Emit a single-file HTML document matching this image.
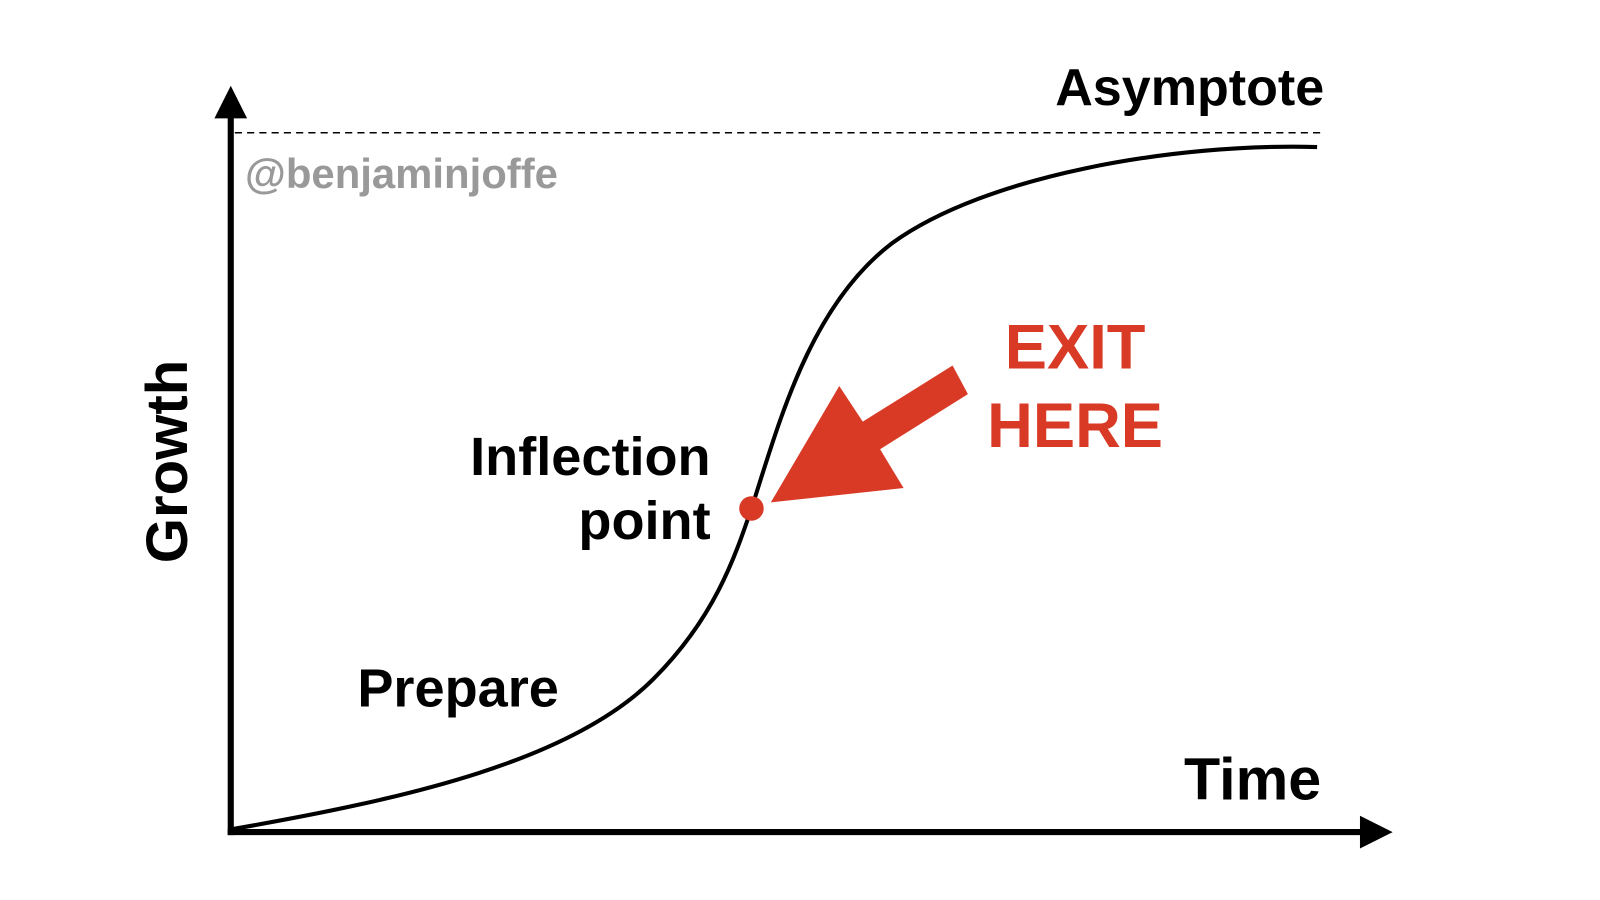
<!DOCTYPE html>
<html><head><meta charset="utf-8"><style>
html,body{margin:0;padding:0;background:#fff;}
svg{display:block;}
text{font-family:"Liberation Sans",sans-serif;font-weight:bold;}
</style></head><body>
<svg width="1600" height="900" viewBox="0 0 1600 900" xmlns="http://www.w3.org/2000/svg">
<rect width="1600" height="900" fill="#fff"/>
<g transform="scale(1.021)">
<line x1="230" y1="130" x2="1298" y2="130" stroke="#000" stroke-width="1.5" stroke-dasharray="7,5"/>
<line x1="226" y1="110" x2="226" y2="818" stroke="#000" stroke-width="6"/>
<polygon points="226,84 210,116 242,116" fill="#000"/>
<line x1="223" y1="815" x2="1340" y2="815" stroke="#000" stroke-width="6"/>
<polygon points="1364,815 1332,799 1332,831" fill="#000"/>
<path d="M228,812 C400,782 560,745 640,665 C700,605 720,545 736,498 C762,418 792,300 874,238 C965,172 1150,140 1290,144" fill="none" stroke="#000" stroke-width="4"/>
<circle cx="736" cy="498" r="12" fill="#d93a26"/>
<polygon points="755,492 885,478 862,440 948,386 933,358 845,413 822,378" fill="#d93a26"/>
<text x="1297" y="103" font-size="51" text-anchor="end" fill="#000">Asymptote</text>
<text x="240" y="184" font-size="41" fill="#999">@benjaminjoffe</text>
<text transform="translate(183,452) rotate(-90)" font-size="57" text-anchor="middle" fill="#000">Growth</text>
<text x="696" y="465" font-size="53" text-anchor="end" fill="#000">Inflection</text>
<text x="696" y="528" font-size="53" text-anchor="end" fill="#000">point</text>
<text x="350" y="692" font-size="53" fill="#000">Prepare</text>
<text x="1294" y="783" font-size="58" text-anchor="end" fill="#000">Time</text>
<text x="1053" y="361" font-size="62" text-anchor="middle" fill="#d93a26">EXIT</text>
<text x="1053" y="438" font-size="62" text-anchor="middle" fill="#d93a26">HERE</text>
</g>
</svg>
</body></html>
